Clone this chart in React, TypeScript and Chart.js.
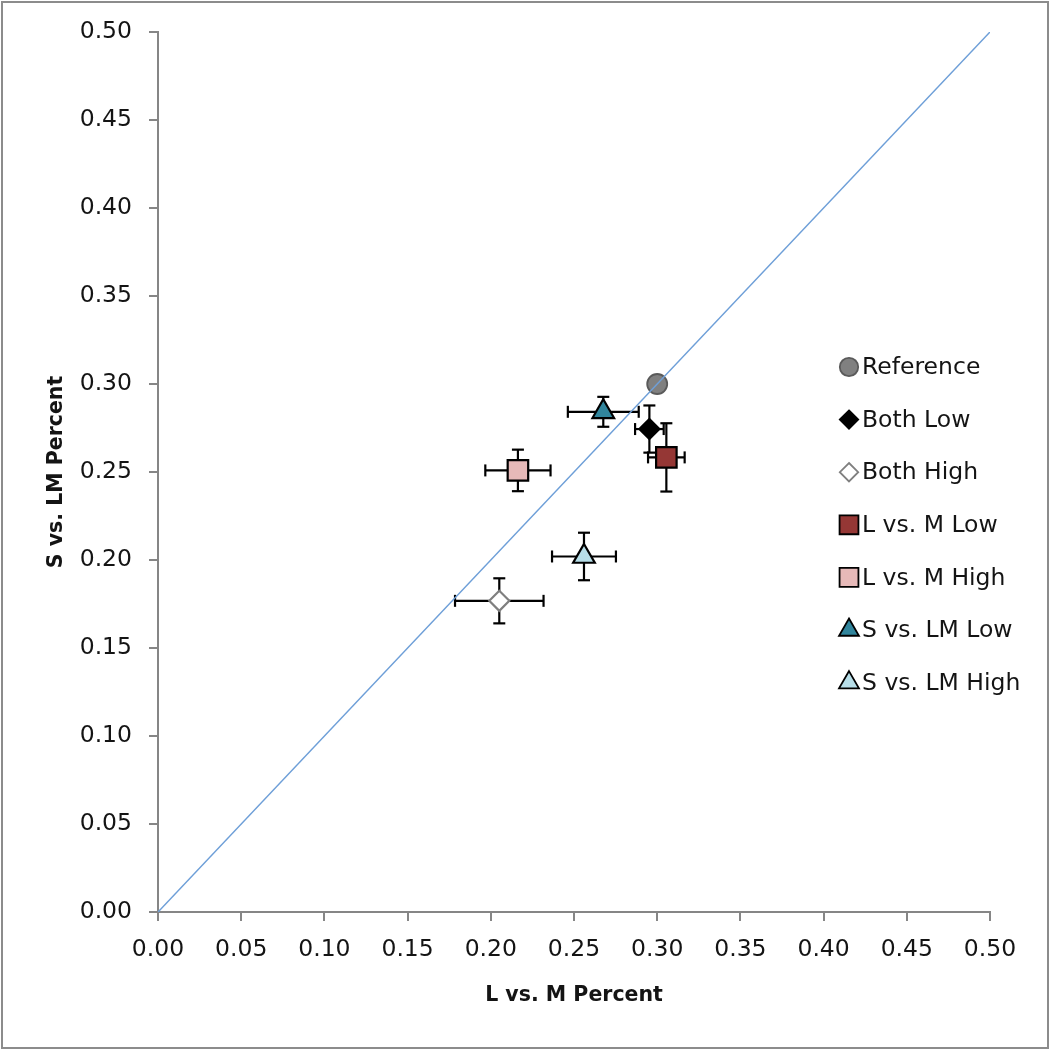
import React, { useEffect, useRef } from 'react';
import { Chart, registerables } from 'chart.js';

Chart.register(...registerables);

const FONT = "'DejaVu Sans', sans-serif";
const TEXT_COLOR = '#141414';
const AXIS_COLOR = '#868686';

const seriesNames = ['Reference', 'Both Low', 'Both High', 'L vs. M Low', 'L vs. M High', 'S vs. LM Low', 'S vs. LM High'];
const xValues = [0.300, 0.2953, 0.2051, 0.3055, 0.2163, 0.2676, 0.2560];
const yValues = [0.300, 0.2744, 0.1768, 0.2583, 0.2509, 0.2842, 0.2020];
const xErrors = [0, 0.0086, 0.0266, 0.0110, 0.0196, 0.0213, 0.0192];
const yErrors = [0, 0.0134, 0.0128, 0.0194, 0.0118, 0.0085, 0.0135];
const fillColors = ['#808080', '#000000', '#ffffff', '#953735', '#e6b9b8', '#31859c', '#b7dee8'];
const borderColors = ['#5a5a5a', '#000000', '#7f7f7f', '#000000', '#000000', '#000000', '#000000'];
const pointStyles = ['circle', 'rectRot', 'rectRot', 'rect', 'rect', 'triangle', 'triangle'];
const pointRadii = [10, 10, 10, 14.5, 14.5, 12.5, 12.5];

const diagonalX = [0, 0.5];
const diagonalY = [0, 0.5];

const axisMin = 0;
const axisMax = 0.5;
const axisStep = 0.05;

function drawMarker(ctx: CanvasRenderingContext2D, style: string, x: number, y: number, r: number, fill: string, stroke: string, lw: number) {
  ctx.save();
  ctx.beginPath();
  if (style === 'circle') {
    ctx.arc(x, y, r, 0, Math.PI * 2);
  } else if (style === 'rectRot') {
    ctx.moveTo(x, y - r);
    ctx.lineTo(x + r, y);
    ctx.lineTo(x, y + r);
    ctx.lineTo(x - r, y);
  } else if (style === 'rect') {
    const s = Math.SQRT1_2 * r;
    ctx.rect(x - s, y - s, 2 * s, 2 * s);
  } else if (style === 'triangle') {
    ctx.moveTo(x, y - r);
    ctx.lineTo(x + Math.sin((2 * Math.PI) / 3) * r, y + r / 2);
    ctx.lineTo(x - Math.sin((2 * Math.PI) / 3) * r, y + r / 2);
  }
  ctx.closePath();
  ctx.fillStyle = fill;
  ctx.fill();
  ctx.lineWidth = lw;
  ctx.strokeStyle = stroke;
  ctx.stroke();
  ctx.restore();
}

const errorBarPlugin = {
  id: 'errorBars',
  beforeDatasetsDraw(chart: any) {
    const { ctx } = chart;
    const xs = chart.scales.x;
    const ys = chart.scales.y;
    const cap = 6;
    ctx.save();
    ctx.strokeStyle = '#000000';
    ctx.lineWidth = 2.2;
    const seg = (a: number, b: number, c: number, d: number) => {
      ctx.beginPath();
      ctx.moveTo(a, b);
      ctx.lineTo(c, d);
      ctx.stroke();
    };
    seriesNames.forEach((_, i) => {
      const px = xs.getPixelForValue(xValues[i]);
      const py = ys.getPixelForValue(yValues[i]);
      if (xErrors[i] > 0) {
        const x0 = xs.getPixelForValue(xValues[i] - xErrors[i]);
        const x1 = xs.getPixelForValue(xValues[i] + xErrors[i]);
        seg(x0, py, x1, py);
        seg(x0, py - cap, x0, py + cap);
        seg(x1, py - cap, x1, py + cap);
      }
      if (yErrors[i] > 0) {
        const y0 = ys.getPixelForValue(yValues[i] - yErrors[i]);
        const y1 = ys.getPixelForValue(yValues[i] + yErrors[i]);
        seg(px, y0, px, y1);
        seg(px - cap, y0, px + cap, y0);
        seg(px - cap, y1, px + cap, y1);
      }
    });
    ctx.restore();
  },
};

const legendAndFramePlugin = {
  id: 'legendAndFrame',
  afterDraw(chart: any) {
    const { ctx, width, height } = chart;
    ctx.save();
    ctx.strokeStyle = '#8c8c8c';
    ctx.lineWidth = 2;
    ctx.strokeRect(2, 2, width - 4, height - 4);
    const markerX = 849;
    const textX = 862;
    const top = 367;
    const gap = 52.6;
    ctx.font = `23.5px ${FONT}`;
    ctx.textBaseline = 'middle';
    ctx.textAlign = 'left';
    seriesNames.forEach((name, i) => {
      const y = top + i * gap;
      drawMarker(ctx, pointStyles[i], markerX, y, pointRadii[i] * 0.92, fillColors[i], borderColors[i], 1.8);
      ctx.fillStyle = TEXT_COLOR;
      ctx.fillText(name, textX, y + 1);
    });
    ctx.restore();
  },
};

export default function App() {
  const canvasRef = useRef<HTMLCanvasElement | null>(null);

  useEffect(() => {
    document.body.style.margin = '0';
    const canvas = canvasRef.current;
    if (!canvas) return;

    const pointSets = seriesNames.map((name, i) => ({
      label: name,
      data: [{ x: xValues[i], y: yValues[i] }],
      pointStyle: pointStyles[i],
      pointRadius: pointRadii[i],
      pointHoverRadius: pointRadii[i],
      pointBackgroundColor: fillColors[i],
      pointBorderColor: borderColors[i],
      pointBorderWidth: i === 0 ? 1.8 : 2.2,
      showLine: false,
      order: 1,
    }));

    const diagonal = {
      label: 'Diagonal',
      data: diagonalX.map((x, i) => ({ x, y: diagonalY[i] })),
      showLine: true,
      borderColor: '#6e9fd8',
      borderWidth: 1.5,
      pointRadius: 0,
      pointHoverRadius: 0,
      order: 0,
    };

    const tickFont = { family: FONT, size: 23.5 };
    const titleFont = { family: FONT, size: 20.5, weight: 'bold' as const };

    const chart = new Chart(canvas, {
      type: 'scatter',
      data: { datasets: [diagonal, ...pointSets] as any },
      options: {
        responsive: false,
        animation: false,
        devicePixelRatio: 1,
        layout: { padding: { top: 32, right: 60, bottom: 0, left: 0 } },
        plugins: {
          legend: { display: false },
          tooltip: { enabled: false },
        },
        scales: {
          x: {
            type: 'linear',
            min: axisMin,
            max: axisMax,
            ticks: {
              stepSize: axisStep,
              font: tickFont,
              color: TEXT_COLOR,
              padding: 15,
              maxRotation: 0,
              callback: (v: any) => Number(v).toFixed(2),
            },
            grid: { drawOnChartArea: false, drawTicks: true, tickLength: 9, color: AXIS_COLOR, lineWidth: 2 },
            border: { color: AXIS_COLOR, width: 2 },
            title: {
              display: true,
              text: 'L vs. M Percent',
              font: titleFont,
              color: TEXT_COLOR,
              padding: { top: 0, bottom: 42 },
            },
            afterFit: (s: any) => {
              s.height = 138;
            },
          },
          y: {
            type: 'linear',
            min: axisMin,
            max: axisMax,
            ticks: {
              stepSize: axisStep,
              font: tickFont,
              color: TEXT_COLOR,
              padding: 17,
              callback: (v: any) => Number(v).toFixed(2),
            },
            grid: { drawOnChartArea: false, drawTicks: true, tickLength: 9, color: AXIS_COLOR, lineWidth: 2 },
            border: { color: AXIS_COLOR, width: 2 },
            title: {
              display: true,
              text: 'S vs. LM Percent',
              font: titleFont,
              color: TEXT_COLOR,
              padding: { top: 44, bottom: 0 },
            },
            afterFit: (s: any) => {
              s.width = 158;
            },
          },
        },
      } as any,
      plugins: [errorBarPlugin, legendAndFramePlugin],
    });

    return () => {
      chart.destroy();
    };
  }, []);

  return <canvas ref={canvasRef} width={1050} height={1050} style={{ display: 'block' }} />;
}
